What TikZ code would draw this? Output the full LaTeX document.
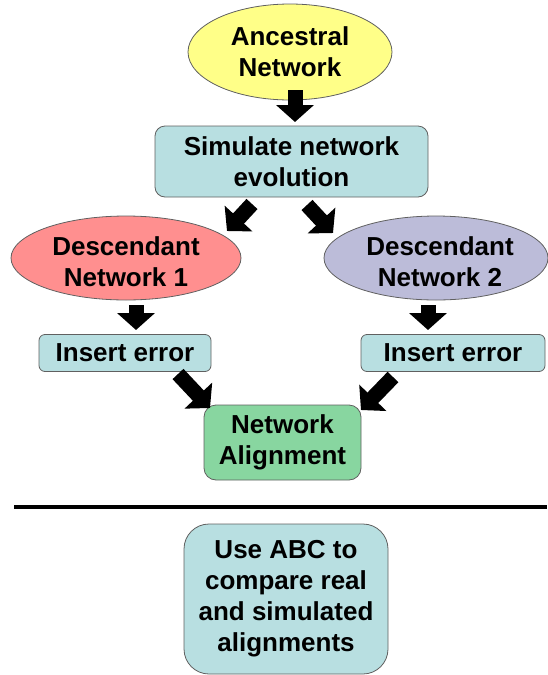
\documentclass[tikz,border=0pt]{standalone}
\usepackage{fontspec}
\setmainfont{Liberation Sans}
\usetikzlibrary{shapes.geometric,arrows.meta}
\definecolor{tealbox}{HTML}{B8DFE1}
\definecolor{yellowell}{HTML}{FFFF88}
\definecolor{redell}{HTML}{FF8F8F}
\definecolor{lavell}{HTML}{BCBCD9}
\definecolor{greenbox}{HTML}{88D6A0}
\definecolor{edgegray}{HTML}{606060}
\tikzset{
  lbl/.style={font=\fontsize{26}{31}\selectfont\bfseries, align=center, text=black, inner sep=0pt},
  ell/.style={lbl, ellipse, draw=edgegray, line width=0.8pt},
  rbox/.style={lbl, rectangle, draw=edgegray, line width=0.8pt, rounded corners=#1},
  blockarrow/.style={line width=15pt, -{Triangle[width=37pt,length=17pt]}, black}
}
\begin{document}
\begin{tikzpicture}[x=1pt,y=-1pt]
\useasboundingbox (0,0) rectangle (547,675);
\node[ell, fill=yellowell, minimum width=204pt, minimum height=96pt] (anc) at (290,52) {Ancestral\\Network};
\node[rbox=10pt, fill=tealbox, minimum width=273pt, minimum height=71pt] (sim) at (291.5,161.5) {Simulate network\\evolution};
\node[ell, fill=redell, minimum width=230pt, minimum height=84pt] (d1) at (126,258) {};
\node[lbl] (d1t) at (126,262) {Descendant\\Network 1};
\node[ell, fill=lavell, minimum width=224pt, minimum height=84pt] (d2) at (436,258) {};
\node[lbl] (d2t) at (440,262) {Descendant\\Network 2};
\node[rbox=6pt, fill=tealbox, minimum width=172pt, minimum height=37pt] (e1) at (125,353) {Insert error};
\node[rbox=6pt, fill=tealbox, minimum width=184pt, minimum height=37pt] (e2) at (453,353) {Insert error};
\node[rbox=12pt, fill=greenbox, minimum width=157pt, minimum height=75pt] (al) at (282.5,442.5) {Network\\Alignment};
\node[rbox=25pt, fill=tealbox, minimum width=204pt, minimum height=150pt] (abc) at (286,599) {Use ABC to\\compare real\\and simulated\\alignments};
\coordinate (l1) at (14,507);
\coordinate (l2) at (547,507);
\draw[line width=3.5pt] (l1) -- (l2);
% block arrows
\coordinate (aS) at (295,90);  \coordinate (aE) at (295,122);
\coordinate (bS) at (252,204); \coordinate (bE) at (227,231);
\coordinate (cS) at (307,205); \coordinate (cE) at (333,233);
\coordinate (dS) at (136,305); \coordinate (dE) at (136,330);
\coordinate (eS) at (428,305); \coordinate (eE) at (428,330);
\coordinate (fS) at (178,374); \coordinate (fE) at (210,408);
\coordinate (gS) at (393,377); \coordinate (gE) at (361,410);
\draw[blockarrow] (aS) -- (aE);
\draw[blockarrow] (bS) -- (bE);
\draw[blockarrow] (cS) -- (cE);
\draw[blockarrow] (dS) -- (dE);
\draw[blockarrow] (eS) -- (eE);
\draw[blockarrow] (fS) -- (fE);
\draw[blockarrow] (gS) -- (gE);
\end{tikzpicture}
\end{document}
